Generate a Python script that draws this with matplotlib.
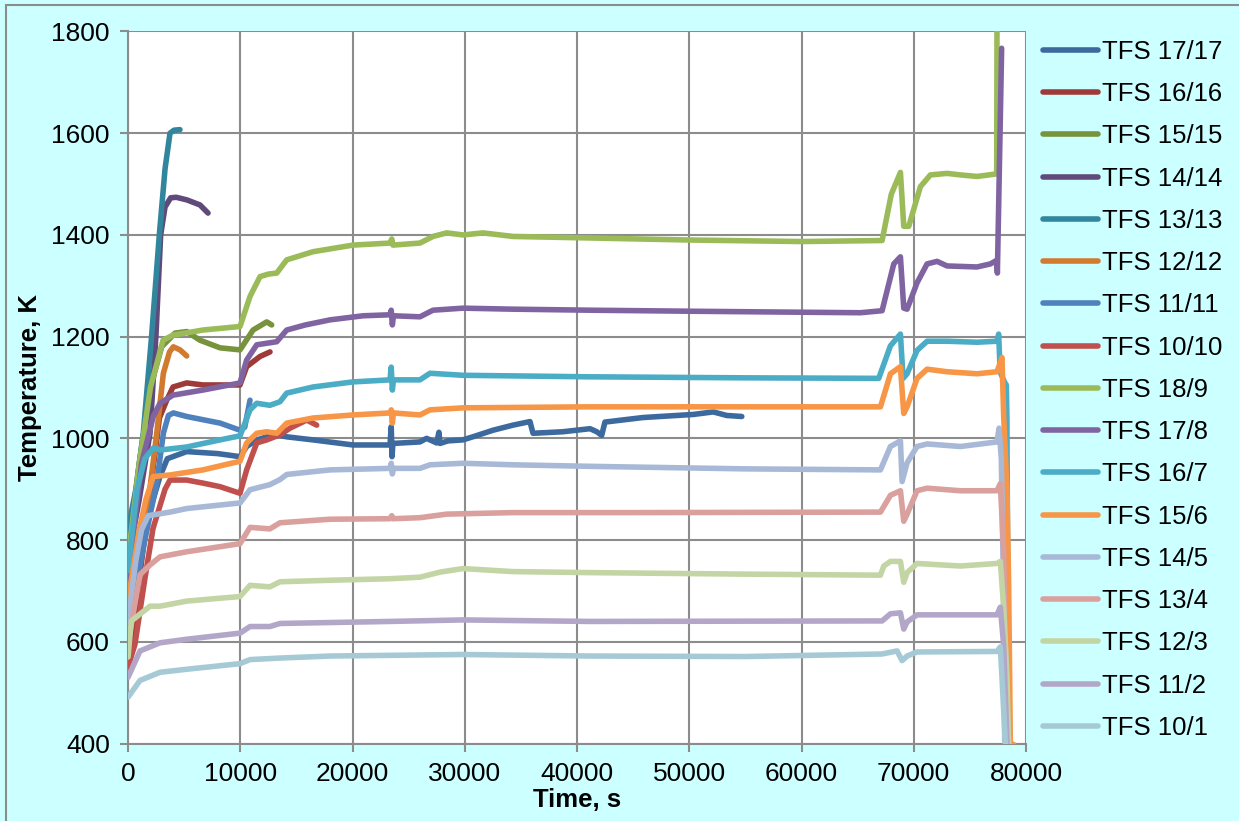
import matplotlib
matplotlib.use("Agg")
import matplotlib.pyplot as plt
from matplotlib.patches import Rectangle

plt.rcParams['font.family'] = ['Liberation Sans', 'DejaVu Sans']

# --- data (time s, temperature K) ---
t_17_17 = [0, 1200, 2230, 2850, 3500, 5230, 8000, 9980, 10570, 11470, 12360, 13250, 14140, 16480,
           20040, 23340, 23450, 23520, 23600, 26010, 26600, 27500, 27700, 27800, 28500, 29840,
           31000, 32520, 34300, 35810, 36080, 38750, 41160, 41760, 42200, 42490, 45900, 50360,
           52140, 53340, 54680]
T_17_17 = [690, 800, 879, 925, 960, 974, 970, 964, 984, 997, 1003, 1007, 1003, 997,
           987, 987, 1023, 964, 990, 993, 1000, 991, 1012, 990, 995, 997,
           1005, 1016, 1026, 1033, 1010, 1013, 1019, 1013, 1006, 1032, 1041, 1047,
           1052, 1045, 1043]

t_16_16 = [0, 1000, 2000, 2800, 3450, 4010, 5230, 6680, 9980, 10570, 11760, 12650]
T_16_16 = [550, 720, 900, 1040, 1075, 1101, 1109, 1105, 1105, 1141, 1161, 1170]

t_15_15 = [0, 1000, 2000, 3000, 4190, 5230, 6410, 8200, 9980, 11140, 12360, 12800]
T_15_15 = [770, 950, 1100, 1180, 1207, 1210, 1193, 1178, 1174, 1213, 1229, 1223]

t_14_14 = [0, 1000, 1960, 2500, 2910, 3300, 3800, 4300, 5230, 6410, 7130]
T_14_14 = [760, 880, 1010, 1207, 1400, 1455, 1473, 1474, 1469, 1459, 1443]

t_13_13 = [0, 700, 1360, 2100, 2790, 3300, 3740, 4100, 4630]
T_13_13 = [820, 900, 1010, 1200, 1400, 1530, 1600, 1606, 1607]

t_12_12 = [0, 1500, 2560, 3150, 3700, 4040, 4630, 5230]
T_12_12 = [650, 820, 1010, 1128, 1170, 1180, 1174, 1162]

t_11_11 = [0, 1500, 2560, 3150, 3600, 4040, 5230, 8200, 9980, 10400, 10870]
T_11_11 = [620, 800, 912, 1010, 1045, 1050, 1043, 1030, 1016, 1022, 1075]

t_10_10 = [0, 620, 1510, 2230, 3300, 3740, 5230, 6680, 8200, 9980, 10570, 11470, 12360, 13540,
           14430, 15920, 16810]
T_10_10 = [550, 595, 725, 823, 900, 918, 918, 912, 905, 892, 938, 991, 997, 1007,
           1020, 1036, 1026]

t_18_9 = [0, 1000, 2000, 3120, 4010, 6680, 9980, 10870, 11760, 12500, 13250, 14140, 16480, 20040,
          23340, 23500, 23600, 26010, 27170, 28390, 29840, 31620, 34300, 41160, 50000, 60000,
          67180, 68000, 68813, 69110, 69555, 70593, 71483, 72967, 74154, 75637, 77390, 77420]
T_18_9 = [760, 950, 1100, 1193, 1203, 1213, 1220, 1279, 1318, 1323, 1325, 1351, 1367, 1380,
          1384, 1392, 1380, 1384, 1397, 1404, 1400, 1404, 1397, 1394, 1390, 1387,
          1389, 1480, 1523, 1417, 1417, 1495, 1518, 1521, 1518, 1515, 1520, 1850]

t_17_8 = [0, 1200, 2250, 2850, 4010, 6680, 9980, 10570, 11470, 13250, 14140, 15800, 18000, 20940,
          23340, 23450, 23550, 23650, 26010, 27170, 29840, 34300, 41160, 50000, 60000, 65250,
          67180, 68220, 68813, 69110, 69407, 70297, 71187, 72077, 72967, 75637, 76824, 77390,
          77450, 77830]
T_17_8 = [720, 950, 1043, 1069, 1085, 1095, 1109, 1154, 1184, 1190, 1213, 1223, 1233, 1241,
          1243, 1252, 1223, 1241, 1239, 1252, 1256, 1254, 1252, 1250, 1248, 1247,
          1251, 1343, 1357, 1256, 1254, 1306, 1343, 1348, 1339, 1337, 1343, 1350,
          1325, 1767]

t_16_7 = [0, 800, 1500, 2250, 2850, 5230, 8200, 9980, 10870, 11470, 12640, 13540, 14140, 16480,
          20040, 23340, 23450, 23550, 23650, 26010, 26900, 29840, 41160, 55000, 66880, 67923,
          68813, 69050, 69407, 70297, 71187, 72967, 75637, 77417, 77565, 77700, 78100, 78250,
          78300, 78450]
T_16_7 = [740, 900, 960, 981, 977, 983, 997, 1005, 1056, 1069, 1065, 1072, 1089, 1101,
          1111, 1115, 1140, 1095, 1115, 1115, 1128, 1124, 1121, 1119, 1118, 1182,
          1205, 1118, 1127, 1173, 1191, 1191, 1189, 1191, 1205, 1130, 1110, 1105,
          1040, 400]

t_15_6 = [0, 1000, 1600, 2250, 3740, 6680, 9980, 10570, 11470, 12360, 13250, 14140, 16480, 20040,
          23340, 23450, 23550, 23650, 26010, 26900, 29840, 41160, 55000, 67033, 67923, 68813,
          69110, 69407, 70297, 71187, 72967, 75637, 77417, 77862, 78010, 78307, 78455, 78604,
          78900]
T_15_6 = [680, 820, 880, 925, 928, 938, 955, 991, 1010, 1013, 1010, 1030, 1040, 1046,
          1050, 1056, 1030, 1050, 1046, 1056, 1060, 1062, 1062, 1062, 1127, 1141,
          1049, 1062, 1118, 1136, 1131, 1127, 1131, 1159, 1044, 897, 713, 400,
          398]

t_14_5 = [0, 700, 1200, 1800, 3740, 5230, 9980, 10870, 12640, 13540, 14140, 18000, 23340, 23450,
          23550, 23650, 26010, 26900, 29840, 34300, 41160, 55000, 67033, 67923, 68813, 68961,
          69407, 70297, 71187, 74154, 77417, 77600, 77800, 78000, 78100]
T_14_5 = [640, 760, 820, 848, 855, 862, 873, 899, 909, 919, 929, 938, 941, 951,
          930, 941, 941, 948, 951, 948, 945, 940, 938, 984, 995, 915,
          952, 984, 989, 984, 993, 1020, 960, 700, 405]

t_13_4 = [0, 300, 1070, 1960, 2850, 5230, 9980, 10870, 12640, 13540, 18000, 23340, 23500, 23600,
          26010, 28390, 34300, 45000, 67033, 67923, 68813, 69110, 69407, 70297, 71187, 74154,
          77417, 77714, 78010, 78307]
T_13_4 = [600, 634, 732, 751, 767, 777, 793, 825, 822, 834, 841, 842, 848, 842,
          844, 851, 854, 854, 855, 888, 897, 837, 851, 897, 902, 897,
          897, 911, 777, 400]

t_12_3 = [0, 300, 1960, 2850, 5230, 9980, 10870, 12640, 13540, 18000, 23340, 26010, 27800, 29840,
          34300, 41160, 55000, 67033, 67330, 67923, 68813, 69110, 69407, 70297, 74154, 77417,
          77714, 78010, 78307, 78455]
T_12_3 = [570, 641, 670, 670, 680, 689, 711, 708, 718, 721, 724, 727, 737, 744,
          738, 736, 733, 731, 749, 758, 758, 717, 736, 754, 749, 754,
          758, 667, 529, 400]

t_11_2 = [0, 1070, 2850, 5230, 9980, 10870, 12640, 13540, 23340, 29840, 41160, 67180, 67923, 68813,
          69110, 69407, 70297, 77417, 77714, 78010, 78307]
T_11_2 = [530, 582, 598, 605, 617, 630, 630, 636, 640, 643, 640, 641, 655, 657,
          625, 639, 653, 653, 668, 593, 400]

t_10_1 = [0, 1070, 2850, 5230, 9980, 10870, 13540, 18000, 29840, 41160, 55000, 67180, 68516, 68961,
          69407, 70297, 77417, 77714, 77862, 78160]
T_10_1 = [491, 524, 540, 546, 557, 565, 568, 572, 575, 572, 571, 576, 582, 563,
          572, 580, 581, 590, 529, 400]

labels = ["TFS 17/17", "TFS 16/16", "TFS 15/15", "TFS 14/14", "TFS 13/13", "TFS 12/12",
          "TFS 11/11", "TFS 10/10", "TFS 18/9", "TFS 17/8", "TFS 16/7", "TFS 15/6",
          "TFS 14/5", "TFS 13/4", "TFS 12/3", "TFS 11/2", "TFS 10/1"]
times = [t_17_17, t_16_16, t_15_15, t_14_14, t_13_13, t_12_12, t_11_11, t_10_10,
         t_18_9, t_17_8, t_16_7, t_15_6, t_14_5, t_13_4, t_12_3, t_11_2, t_10_1]
temps = [T_17_17, T_16_16, T_15_15, T_14_14, T_13_13, T_12_12, T_11_11, T_10_10,
         T_18_9, T_17_8, T_16_7, T_15_6, T_14_5, T_13_4, T_12_3, T_11_2, T_10_1]
colors = ["#3C6A9E", "#9E3B38", "#77933C", "#604A7B", "#31859C", "#D27A2E",
          "#4F81BD", "#C0504D", "#9BBB59", "#8064A2", "#4BACC6", "#F79646",
          "#A7B9D7", "#D9A09E", "#C3D5A4", "#B3A7C9", "#A5CAD6"]

GRAY = "#8C8C8C"

fig = plt.figure(figsize=(12.39, 8.21), dpi=100, facecolor="#CCFFFF")
fig.add_artist(Rectangle((6 / 1239, -0.1), 1.2, 1.1 - 5 / 821, transform=fig.transFigure,
                         fill=False, edgecolor=GRAY, lw=1.5))

ax = fig.add_axes([128 / 1239, 1 - 743.5 / 821, 898 / 1239, 712 / 821])
ax.set_facecolor("white")

lines = []
for i, (t, T, c, lab) in enumerate(zip(times, temps, colors, labels)):
    ln, = ax.plot(t, T, color=c, lw=4.0, label=lab, solid_joinstyle="round",
                  solid_capstyle="round", zorder=3 + i * 0.01)
    lines.append(ln)

ax.set_xlim(0, 80000)
ax.set_ylim(400, 1800)
ax.set_xticks(range(0, 80001, 10000))
ax.set_yticks(range(400, 1801, 200))
ax.grid(True, color=GRAY, lw=1.5, zorder=1)
ax.set_axisbelow(True)
for s in ["top", "right"]:
    ax.spines[s].set_visible(False)
for s in ["left", "bottom"]:
    ax.spines[s].set_color(GRAY)
    ax.spines[s].set_linewidth(1.5)
ax.tick_params(direction="out", length=6, width=1.5, color=GRAY, labelsize=19, pad=7)

ax.set_xlabel("Time, s", fontsize=18.5, fontweight="bold", labelpad=2)
ax.set_ylabel("Temperature, K", fontsize=18.5, fontweight="bold", labelpad=7)

fig.legend(lines, labels, loc="upper left", bbox_to_anchor=(1043 / 1239, 1 - 40 / 821),
           frameon=False, fontsize=18.5, handlelength=2.14, handletextpad=0.16,
           labelspacing=0.71, borderaxespad=0, borderpad=0)

fig.savefig("out.png", dpi=100, facecolor=fig.get_facecolor())
